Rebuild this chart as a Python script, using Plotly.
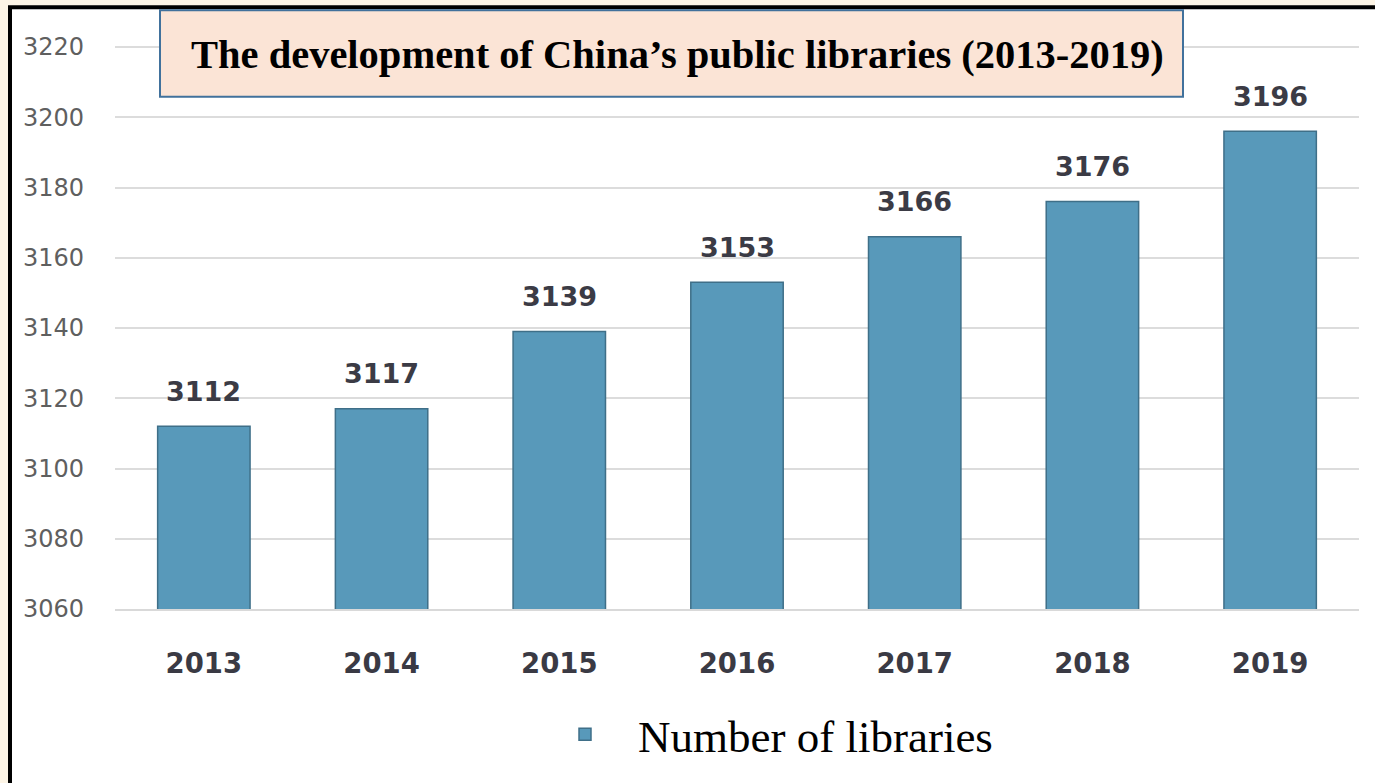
import plotly.graph_objects as go

# Data
years = ["2013", "2014", "2015", "2016", "2017", "2018", "2019"]
libraries = [3112, 3117, 3139, 3153, 3166, 3176, 3196]
series_name = "Number of libraries"
title_text = "The development of China\u2019s public libraries (2013-2019)"
y_ticks = [3060, 3080, 3100, 3120, 3140, 3160, 3180, 3200, 3220]

# Canvas and plot-area geometry (pixels)
W, H = 1375, 783
L, R, T, B = 115, 1359, 46, 611


def fx(px):
    return (px - L) / (R - L)


def fy(py):
    return (B - py) / (B - T)


fig = go.Figure()
fig.add_trace(go.Bar(
    x=years,
    y=libraries,
    name=series_name,
    marker=dict(color="#5899ba", line=dict(color="#3f6f88", width=1.5)),
    showlegend=True,
))

# value labels above each bar (category axis: position by category index)
for i, v in enumerate(libraries):
    fig.add_annotation(
        x=i, y=v, text=str(v), showarrow=False,
        yanchor="middle", yshift=35,
        font=dict(family="DejaVu Sans", size=27, color="#3b3b45", weight="bold"),
    )

shapes = [
    # white panel with heavy black frame on top/left
    dict(type="rect", xref="paper", yref="paper",
         x0=fx(10), x1=fx(1420), y0=fy(830), y1=fy(7),
         fillcolor="white", line=dict(color="black", width=4), layer="below"),
    # title box
    dict(type="rect", xref="paper", yref="paper",
         x0=fx(160), x1=fx(1183), y0=fy(97), y1=fy(10),
         fillcolor="#fbe4d6", line=dict(color="#41719c", width=2), layer="above"),
]

fig.add_annotation(
    xref="paper", yref="paper", x=fx(189), y=fy(55),
    xanchor="left", yanchor="middle", showarrow=False,
    text=f"<b>{title_text}</b>",
    font=dict(family="Liberation Serif", size=40.5, color="black"),
)

fig.update_layout(
    width=W, height=H,
    margin=dict(l=L, r=W - R, t=T, b=H - B),
    paper_bgcolor="#fdf5e6",
    plot_bgcolor="white",
    bargap=0.48,
    shapes=shapes,
    showlegend=True,
    legend=dict(
        orientation="h", x=fx(532), y=fy(737), xanchor="left", yanchor="middle",
        itemwidth=96, bgcolor="rgba(0,0,0,0)",
        font=dict(family="Liberation Serif", size=45, color="black"),
    ),
    xaxis=dict(
        type="category",
        range=[-0.5, len(years) - 0.5],
        showgrid=False,
        showline=True, linecolor="#d9d9d9", linewidth=2,
        ticks="", ticklabelstandoff=29,
        tickfont=dict(family="DejaVu Sans", size=27.5, color="#3a3a44", weight="bold"),
    ),
    yaxis=dict(
        range=[3060, 3220.3],
        tickvals=y_ticks,
        showgrid=True, gridcolor="#dcdcdc", gridwidth=2,
        zeroline=False, showline=False,
        ticks="", ticklabelstandoff=30,
        tickfont=dict(family="DejaVu Sans", size=24, color="#5f5f5f"),
    ),
)

fig.write_html("out.html")
